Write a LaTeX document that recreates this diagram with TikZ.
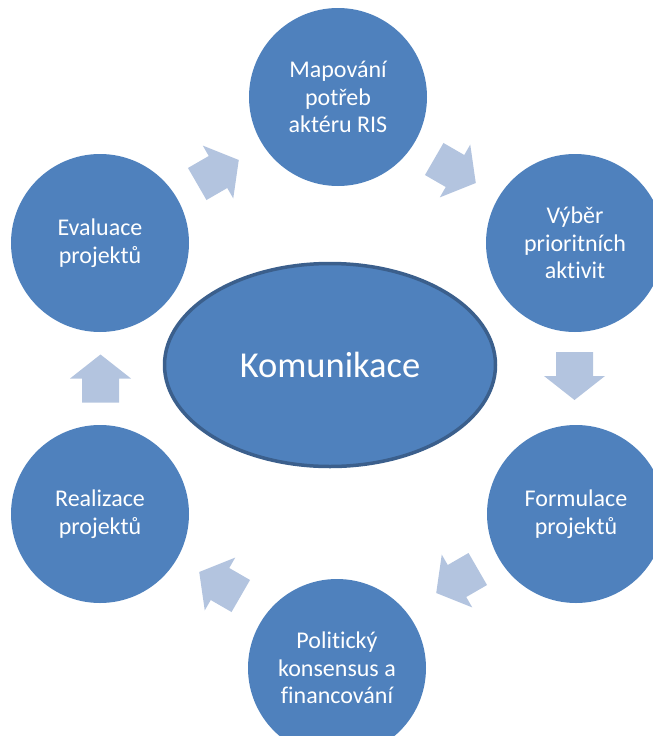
\documentclass[tikz,border=0pt]{standalone}
\usepackage{fontspec}
\setmainfont{Carlito}[Ligatures={NoCommon}]
\usetikzlibrary{shapes.geometric}
\definecolor{nodeblue}{HTML}{4F81BD}
\definecolor{edgeblue}{HTML}{3B5F8C}
\definecolor{arrowblue}{HTML}{B3C4DF}
\tikzset{
  stage/.style={circle, fill=nodeblue, minimum size=178pt, inner sep=0pt,
    text=white, align=center, font=\fontsize{24}{27.5}\selectfont},
  hub/.style={ellipse, fill=nodeblue, draw=edgeblue, line width=3.5pt,
    minimum width=331pt, minimum height=203pt, inner sep=0pt,
    text=white, font=\fontsize{36.5}{40}\selectfont},
  pics/cyclearrow/.style={code={
    \fill[arrowblue] (-24pt,-18.5pt) -- (0pt,-18.5pt) -- (0pt,-30.5pt) -- (24pt,0pt)
      -- (0pt,30.5pt) -- (0pt,18.5pt) -- (-24pt,18.5pt) -- cycle;}}
}
\begin{document}
\begin{tikzpicture}[x=1pt,y=-1pt]
\useasboundingbox (0,0) rectangle (653,736);
\clip (0,0) rectangle (653,736);
% stages
\node[stage] (map) at (338,97) {Mapování\\potřeb\\aktéru RIS};
\node[stage] (vyb) at (575,243) {Výběr\\prioritních\\aktivit};
\node[stage] (form) at (576,514) {Formulace\\projektů};
\node[stage] (pol) at (337,668) {Politický\\konsensus a\\financování};
\node[stage] (real) at (100,514) {Realizace\\projektů};
\node[stage] (eval) at (100,243) {Evaluace\\projektů};
% hub
\node[hub] (kom) at (330,365) {Komunikace};
% cycle arrows
\pic[rotate=30] at (218,172) {cyclearrow};
\pic[rotate=-30] at (455,171) {cyclearrow};
\pic[rotate=-90] at (574.5,376) {cyclearrow};
\pic[rotate=-150] at (457,581) {cyclearrow};
\pic[rotate=150] at (220,584) {cyclearrow};
\pic[rotate=90] at (100.5,378.5) {cyclearrow};
\end{tikzpicture}
\end{document}
